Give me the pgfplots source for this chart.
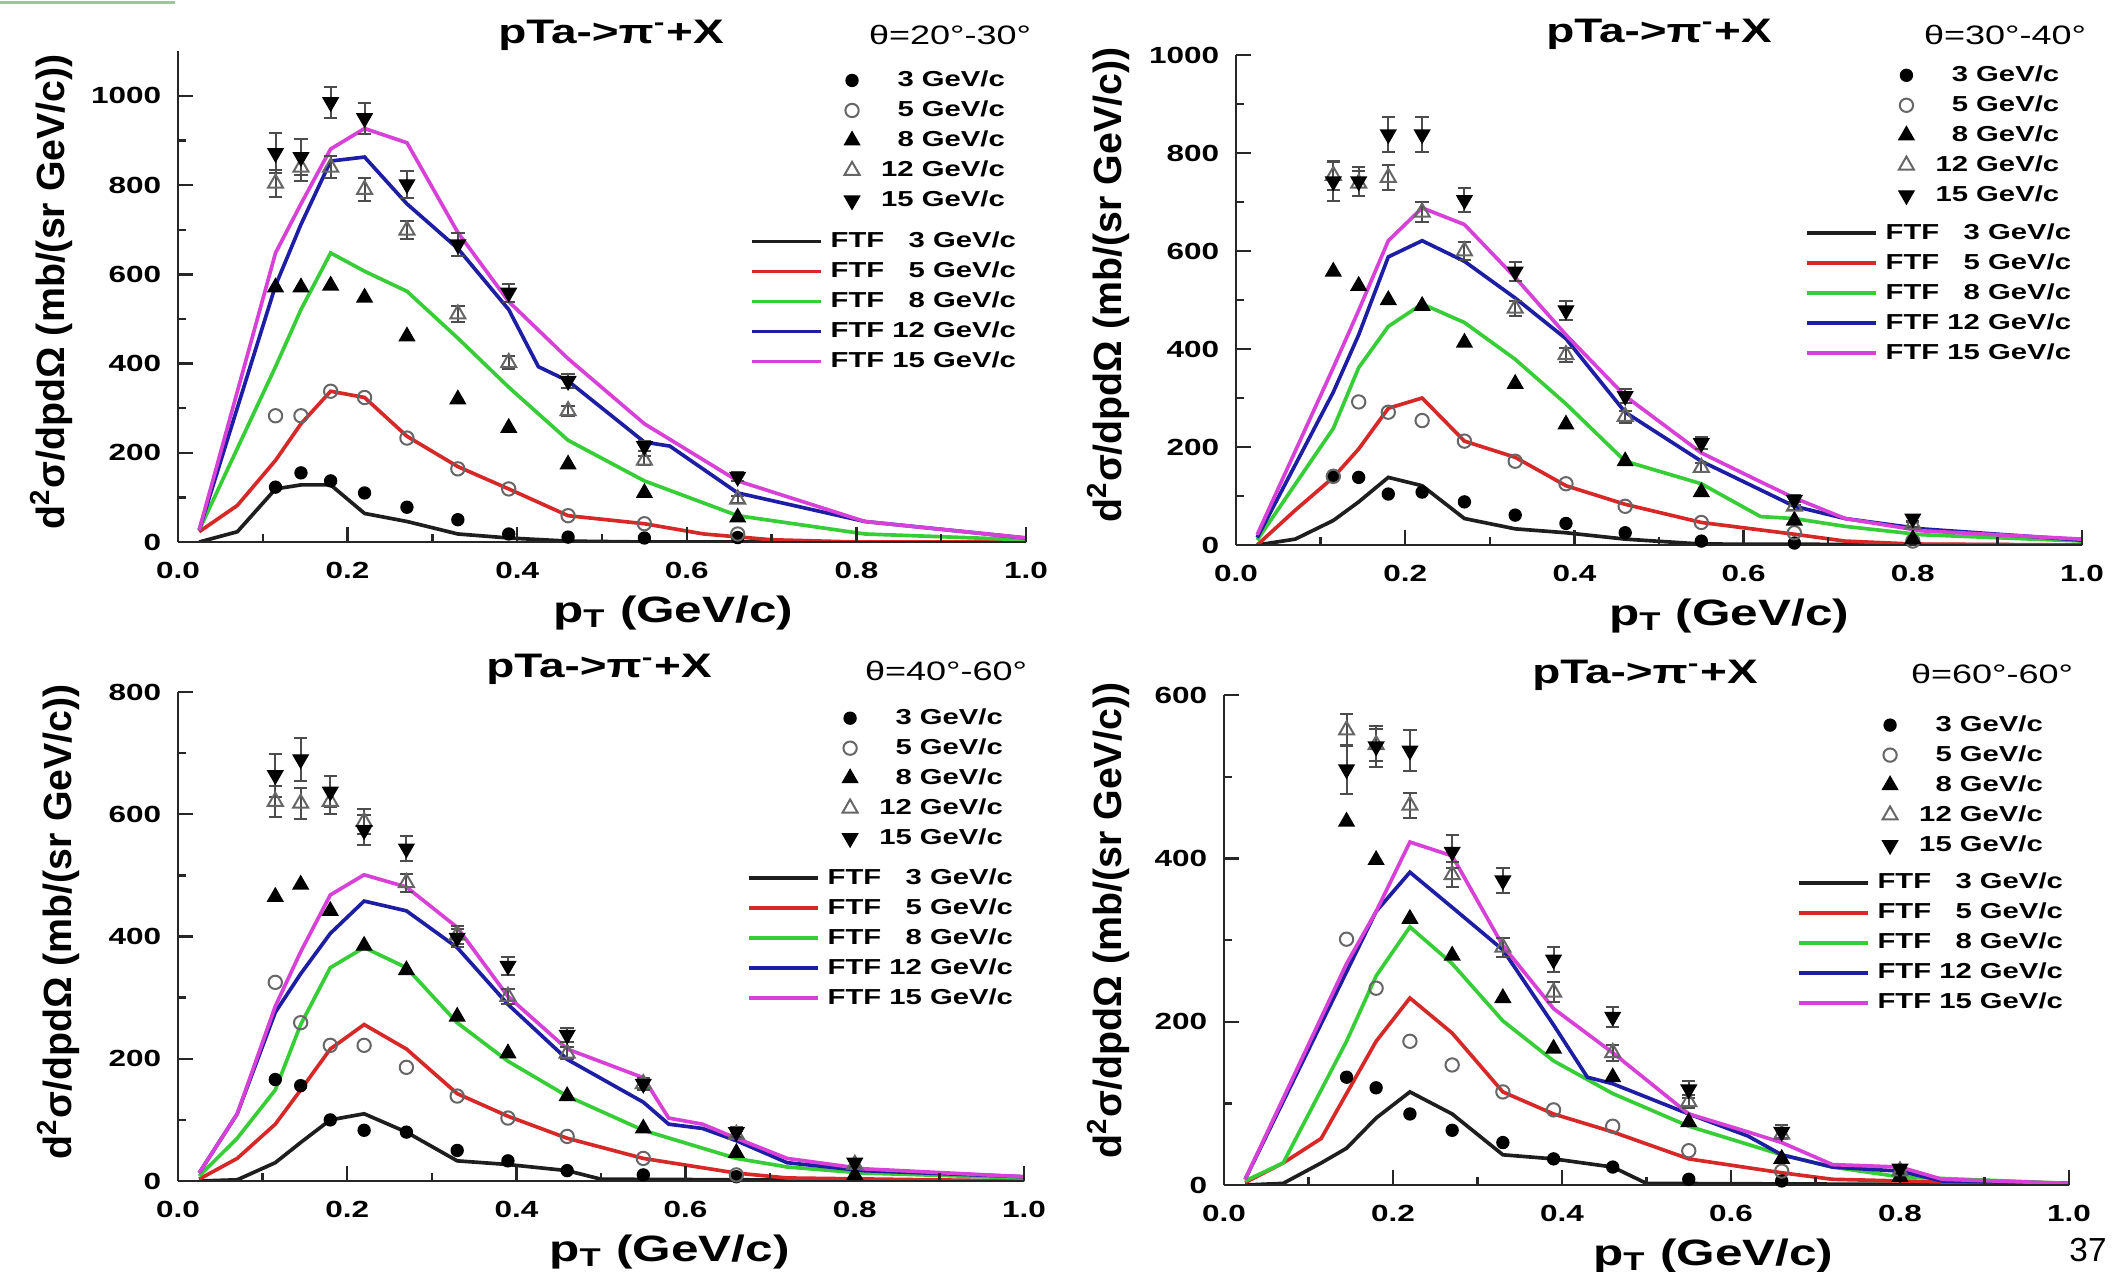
\documentclass[border=0pt]{standalone}
\usepackage{fontspec}
\setmainfont{Liberation Sans}[FakeStretch=1.35]
\newfontfamily\ylabfont{Liberation Sans}
\usepackage{pgfplots}
\usepackage{pgfplotstable}
\pgfplotsset{compat=1.18}
\definecolor{cblk}{RGB}{30,30,30}
\definecolor{cred}{RGB}{215,40,40}
\definecolor{cgrn}{RGB}{55,205,55}
\definecolor{cblu}{RGB}{30,30,165}
\definecolor{cmag}{RGB}{215,65,215}
\definecolor{topgreen}{RGB}{157,197,157}

% x  y3 y5 y8 y12 e12 y15 e15
\pgfplotstableread{
x y3 y5 y8 y12 e12 y15 e15
0.115 123 283 571 804 30 872 45
0.145 155 283 571 840 30 863 40
0.18 137 338 575 840 25 986 35
0.22 110 324 548 790 25 950 35
0.27 78 233 461 699 20 802 30
0.33 50 164 320 511 18 667 25
0.39 18 119 256 402 15 559 20
0.46 11 59 174 294 12 361 15
0.55 9 41 110 183 10 215 12
0.66 10 18 55 96 8 146 10
}\dataA
\pgfplotstableread{
x y3 y5 y8 y12 e12 y15 e15
0.115 142 140 558 754 30 742 40
0.145 138 292 529 738 25 742 30
0.18 104 271 500 750 25 838 35
0.22 108 254 488 679 20 838 35
0.27 88 212 413 600 18 704 25
0.33 61 171 329 483 15 558 20
0.39 44 125 246 388 15 479 20
0.46 25 79 171 262 12 304 15
0.55 8 46 108 158 10 208 12
0.66 4 25 50 79 8 92 10
0.80 nan 8 12 42 6 54 8
}\dataB
\pgfplotstableread{
x y3 y5 y8 y12 e12 y15 e15
0.115 166 325 465 621 25 664 35
0.145 156 259 485 618 25 690 35
0.18 100 222 442 621 20 637 25
0.22 83 222 385 588 20 574 25
0.27 80 186 345 488 15 544 20
0.33 50 139 269 402 15 398 15
0.39 33 103 209 302 12 352 15
0.46 17 73 139 209 10 239 12
0.55 10 37 86 159 8 159 10
0.66 7 10 46 76 6 80 8
0.80 nan nan 10 27 5 30 6
}\dataC
\pgfplotstableread{
x y3 y5 y8 y12 e12 y15 e15
0.145 132 301 445 557 20 509 30
0.18 119 241 398 539 20 537 25
0.22 87 176 326 465 15 532 25
0.27 67 147 281 380 15 408 20
0.33 52 114 229 291 12 373 15
0.39 32 92 167 236 12 276 15
0.46 22 72 132 162 10 206 12
0.55 7 42 77 102 8 117 10
0.66 5 17 32 62 6 65 8
0.80 nan nan 10 17 4 20 5
}\dataD

\pgfplotsset{
  base/.style={scale only axis, xmin=0, xmax=1, ymin=0},
  frame/.style={base,
    axis x line*=bottom, axis y line*=left,
    axis line style={black!85, line width=0.8pt},
    tick align=inside, major tick length=4.5pt, minor tick length=2.5pt,
    tick style={black!85, line width=0.7pt},
    xtick={0,0.2,0.4,0.6,0.8,1}, minor xtick={0.1,0.3,0.5,0.7,0.9},
    /pgf/number format/assume math mode=true,
    xticklabel style={/pgf/number format/fixed, /pgf/number format/fixed zerofill,
      /pgf/number format/precision=1, font=\bfseries\fontsize{7}{8}\selectfont, yshift=-2.5pt},
    yticklabel style={/pgf/number format/1000 sep={}, font=\bfseries\fontsize{7}{8}\selectfont, xshift=-1.5pt},
    xlabel={p\textsubscript{T} (GeV/c)},
    ylabel={d\textsuperscript{2}σ/dpdΩ (mb/(sr GeV/c))},
    xlabel style={font=\bfseries\fontsize{11}{13}\selectfont, anchor=base, yshift=-24pt},
    ylabel style={font=\ylabfont\bfseries\fontsize{11.8}{14}\selectfont, anchor=center},
    legend cell align=left,
    legend style={draw=none, fill=none, inner sep=0pt, outer sep=0pt,
      row sep=3pt, column sep=6.5pt,
      nodes={inner sep=0pt, text height=4.8pt, text depth=1.2pt, font=\bfseries\fontsize{6.5}{7}\selectfont}},
  },
  lines/.style={base, hide axis,
    legend cell align=left,
    legend style={draw=none, fill=none, inner sep=0pt, outer sep=0pt,
      row sep=3pt, column sep=2.4pt,
      nodes={inner sep=0pt, text height=4.8pt, text depth=1.2pt, font=\bfseries\fontsize{6.5}{7}\selectfont}},
  },
  mimg/.style={legend image code/.code={\draw[mark repeat=1,##1] plot coordinates {(0pt,0pt)};}},
  limg/.style={legend image code/.code={\draw[##1] (0pt,0pt) -- (20.7pt,0pt);}},
  ebar/.style={error bars/y dir=both, error bars/y explicit,
    error bars/error bar style={black!70, line width=0.6pt},
    error bars/error mark options={rotate=90, mark size=2pt, black!70, line width=0.6pt}},
  s3/.style={only marks, mark=*, mark size=1.8pt, mark options={fill=black, draw=black}, mimg},
  s5/.style={only marks, mark=o, mark size=2pt, mark options={draw=black!60, fill=white, line width=0.6pt}, mimg},
  s8/.style={only marks, mark=triangle*, mark size=2.6pt, mark options={fill=black, draw=black}, mimg},
  s12/.style={only marks, mark=triangle, mark size=2.6pt, mark options={draw=black!60, fill=white, line width=0.6pt}, mimg, ebar},
  s15/.style={only marks, mark=triangle*, mark size=2.6pt, mark options={fill=black, draw=black, rotate=180}, mimg, ebar},
  f3/.style={cblk, line width=1.1pt, limg},
  f5/.style={cred, line width=1.1pt, limg},
  f8/.style={cgrn, line width=1.1pt, limg},
  f12/.style={cblu, line width=1.1pt, limg},
  f15/.style={cmag, line width=1.1pt, limg},
}

\begin{document}
\begin{tikzpicture}
\useasboundingbox (0,0) rectangle (633.6pt,381.3pt);
\fill[topgreen] (0pt,380.1pt) rectangle (52.5pt,381.0pt);

% ---------------- Panel 1 ----------------
\begin{axis}[lines, at={(53.4pt,218.7pt)}, anchor=south west, width=254.4pt, height=147.2pt, ymax=1100,
  legend style={at={(0.6745,0.633)}, anchor=north west}]
\addplot[f3] coordinates {(0.025,0)(0.07,23)(0.115,119)(0.145,128)(0.18,128)(0.22,64)(0.27,46)(0.33,18)(0.39,9)(0.46,2)(0.55,0)(1.0,0)};
\addplot[f5] coordinates {(0.025,23)(0.07,82)(0.115,183)(0.145,265)(0.18,338)(0.22,324)(0.27,237)(0.33,169)(0.39,119)(0.46,59)(0.55,41)(0.62,18)(0.7,5)(0.8,0)(1.0,0)};
\addplot[f8] coordinates {(0.025,27)(0.115,393)(0.145,521)(0.18,648)(0.22,607)(0.27,562)(0.33,457)(0.39,347)(0.46,228)(0.55,137)(0.66,59)(0.81,18)(1.0,5)};
\addplot[f12] coordinates {(0.025,27)(0.115,575)(0.145,712)(0.18,854)(0.22,863)(0.27,758)(0.33,658)(0.39,521)(0.425,393)(0.46,361)(0.55,224)(0.58,215)(0.66,110)(0.81,46)(1.0,9)};
\addplot[f15] coordinates {(0.025,27)(0.115,648)(0.145,758)(0.18,881)(0.22,927)(0.27,895)(0.33,694)(0.39,539)(0.46,411)(0.55,265)(0.66,137)(0.81,46)(1.0,9)};
\legend{FTF \phantom{1}3 GeV/c, FTF \phantom{1}5 GeV/c, FTF \phantom{1}8 GeV/c, FTF 12 GeV/c, FTF 15 GeV/c}
\end{axis}
\begin{axis}[frame, at={(53.4pt,218.7pt)}, anchor=south west, width=254.4pt, height=147.2pt, ymax=1100,
  ytick={0,200,400,600,800,1000}, minor ytick={100,300,500,700,900},
  xlabel style={at={(axis description cs:0.584,0)}},
  ylabel style={at={(axis description cs:-0.149,0.51)}},
  legend style={at={(0.975,0.961)}, anchor=north east}]
\addplot[s3] table[x=x, y=y3] {\dataA};
\addplot[s5] table[x=x, y=y5] {\dataA};
\addplot[s8] table[x=x, y=y8] {\dataA};
\addplot[s12] table[x=x, y=y12, y error=e12] {\dataA};
\addplot[s15] table[x=x, y=y15, y error=e15] {\dataA};
\legend{\phantom{1}3 GeV/c, \phantom{1}5 GeV/c, \phantom{1}8 GeV/c, 12 GeV/c, 15 GeV/c}
\end{axis}

% ---------------- Panel 2 ----------------
\begin{axis}[lines, at={(370.8pt,217.8pt)}, anchor=south west, width=253.8pt, height=147pt, ymax=1000,
  legend style={at={(0.6726,0.657)}, anchor=north west}]
\addplot[f3] coordinates {(0.025,0)(0.07,12)(0.115,50)(0.145,88)(0.18,138)(0.22,121)(0.27,54)(0.33,33)(0.39,25)(0.46,12)(0.55,2)(1.0,0)};
\addplot[f5] coordinates {(0.025,0)(0.07,71)(0.115,138)(0.145,196)(0.18,279)(0.22,300)(0.27,212)(0.33,179)(0.39,121)(0.46,83)(0.55,46)(0.66,22)(0.72,8)(0.8,2)(1.0,0)};
\addplot[f8] coordinates {(0.025,10)(0.115,238)(0.145,362)(0.18,446)(0.22,492)(0.27,454)(0.33,379)(0.39,288)(0.46,171)(0.55,125)(0.62,58)(0.66,54)(0.72,38)(0.81,21)(1.0,8)};
\addplot[f12] coordinates {(0.025,15)(0.115,312)(0.145,429)(0.18,588)(0.22,621)(0.27,579)(0.33,504)(0.39,421)(0.46,271)(0.55,171)(0.66,79)(0.72,54)(0.81,33)(1.0,10)};
\addplot[f15] coordinates {(0.025,21)(0.115,362)(0.145,479)(0.18,621)(0.22,688)(0.27,654)(0.33,546)(0.39,429)(0.46,304)(0.55,188)(0.62,129)(0.66,96)(0.72,54)(0.81,29)(1.0,12)};
\legend{FTF \phantom{1}3 GeV/c, FTF \phantom{1}5 GeV/c, FTF \phantom{1}8 GeV/c, FTF 12 GeV/c, FTF 15 GeV/c}
\end{axis}
\begin{axis}[frame, at={(370.8pt,217.8pt)}, anchor=south west, width=253.8pt, height=147pt, ymax=1000,
  ytick={0,200,400,600,800,1000}, minor ytick={100,300,500,700,900},
  xlabel style={at={(axis description cs:0.583,0)}},
  ylabel style={at={(axis description cs:-0.151,0.53)}},
  legend style={at={(0.973,0.979)}, anchor=north east}]
\addplot[s3] table[x=x, y=y3] {\dataB};
\addplot[s5] table[x=x, y=y5] {\dataB};
\addplot[s8] table[x=x, y=y8] {\dataB};
\addplot[s12] table[x=x, y=y12, y error=e12] {\dataB};
\addplot[s15] table[x=x, y=y15, y error=e15] {\dataB};
\legend{\phantom{1}3 GeV/c, \phantom{1}5 GeV/c, \phantom{1}8 GeV/c, 12 GeV/c, 15 GeV/c}
\end{axis}

% ---------------- Panel 3 ----------------
\begin{axis}[lines, at={(53.4pt,27pt)}, anchor=south west, width=253.8pt, height=146.7pt, ymax=800,
  legend style={at={(0.6726,0.640)}, anchor=north west}]
\addplot[f3] coordinates {(0.025,0)(0.07,2)(0.115,30)(0.145,63)(0.18,100)(0.22,110)(0.27,80)(0.33,33)(0.39,27)(0.46,17)(0.5,3)(1.0,0)};
\addplot[f5] coordinates {(0.025,3)(0.07,37)(0.115,93)(0.145,149)(0.18,216)(0.22,256)(0.27,216)(0.33,143)(0.39,106)(0.46,70)(0.55,37)(0.66,13)(0.72,5)(1.0,0)};
\addplot[f8] coordinates {(0.025,8)(0.07,70)(0.115,149)(0.145,256)(0.18,349)(0.22,382)(0.27,349)(0.33,259)(0.39,196)(0.46,139)(0.55,83)(0.66,37)(0.72,23)(0.81,13)(1.0,5)};
\addplot[f12] coordinates {(0.025,13)(0.07,110)(0.115,276)(0.145,339)(0.18,405)(0.22,458)(0.27,442)(0.33,382)(0.39,289)(0.46,199)(0.55,129)(0.58,93)(0.62,86)(0.66,66)(0.72,30)(0.81,17)(1.0,7)};
\addplot[f15] coordinates {(0.025,13)(0.07,110)(0.115,286)(0.145,375)(0.18,468)(0.22,501)(0.27,481)(0.33,415)(0.39,302)(0.46,216)(0.55,169)(0.58,103)(0.62,93)(0.66,70)(0.72,37)(0.81,20)(1.0,7)};
\legend{FTF \phantom{1}3 GeV/c, FTF \phantom{1}5 GeV/c, FTF \phantom{1}8 GeV/c, FTF 12 GeV/c, FTF 15 GeV/c}
\end{axis}
\begin{axis}[frame, at={(53.4pt,27pt)}, anchor=south west, width=253.8pt, height=146.7pt, ymax=800,
  ytick={0,200,400,600,800}, minor ytick={100,300,500,700},
  xlabel style={at={(axis description cs:0.581,0)}},
  ylabel style={at={(axis description cs:-0.141,0.53)}},
  legend style={at={(0.975,0.967)}, anchor=north east}]
\addplot[s3] table[x=x, y=y3] {\dataC};
\addplot[s5] table[x=x, y=y5] {\dataC};
\addplot[s8] table[x=x, y=y8] {\dataC};
\addplot[s12] table[x=x, y=y12, y error=e12] {\dataC};
\addplot[s15] table[x=x, y=y15, y error=e15] {\dataC};
\legend{\phantom{1}3 GeV/c, \phantom{1}5 GeV/c, \phantom{1}8 GeV/c, 12 GeV/c, 15 GeV/c}
\end{axis}

% ---------------- Panel 4 ----------------
\begin{axis}[lines, at={(367.2pt,25.8pt)}, anchor=south west, width=253.5pt, height=147pt, ymax=600,
  legend style={at={(0.678,0.637)}, anchor=north west}]
\addplot[f3] coordinates {(0.025,0)(0.07,2)(0.115,27)(0.145,45)(0.18,82)(0.22,114)(0.27,87)(0.33,37)(0.39,32)(0.46,22)(0.5,2)(1.0,0)};
\addplot[f5] coordinates {(0.025,3)(0.07,27)(0.115,57)(0.145,112)(0.18,176)(0.22,229)(0.27,186)(0.33,114)(0.39,87)(0.46,65)(0.55,32)(0.66,15)(0.72,7)(1.0,0)};
\addplot[f8] coordinates {(0.025,5)(0.07,27)(0.145,176)(0.18,256)(0.22,316)(0.27,271)(0.33,201)(0.39,152)(0.46,112)(0.55,72)(0.66,37)(0.72,22)(0.8,10)(1.0,2)};
\addplot[f12] coordinates {(0.025,7)(0.145,261)(0.18,335)(0.22,383)(0.27,340)(0.33,288)(0.39,196)(0.43,132)(0.46,124)(0.55,87)(0.62,60)(0.66,37)(0.72,22)(0.8,17)(0.85,5)(1.0,2)};
\addplot[f15] coordinates {(0.025,7)(0.145,271)(0.18,335)(0.22,420)(0.27,403)(0.33,293)(0.39,216)(0.46,162)(0.55,87)(0.62,65)(0.66,52)(0.72,25)(0.8,22)(0.85,7)(1.0,2)};
\legend{FTF \phantom{1}3 GeV/c, FTF \phantom{1}5 GeV/c, FTF \phantom{1}8 GeV/c, FTF 12 GeV/c, FTF 15 GeV/c}
\end{axis}
\begin{axis}[frame, at={(367.2pt,25.8pt)}, anchor=south west, width=253.5pt, height=147pt, ymax=600,
  ytick={0,200,400,600}, minor ytick={100,300,500},
  xlabel style={at={(axis description cs:0.579,0)}},
  ylabel style={at={(axis description cs:-0.137,0.54)}},
  legend style={at={(0.969,0.959)}, anchor=north east}]
\addplot[s3] table[x=x, y=y3] {\dataD};
\addplot[s5] table[x=x, y=y5] {\dataD};
\addplot[s8] table[x=x, y=y8] {\dataD};
\addplot[s12] table[x=x, y=y12, y error=e12] {\dataD};
\addplot[s15] table[x=x, y=y15, y error=e15] {\dataD};
\legend{\phantom{1}3 GeV/c, \phantom{1}5 GeV/c, \phantom{1}8 GeV/c, 12 GeV/c, 15 GeV/c}
\end{axis}

% titles
\begin{scope}[every node/.style={inner sep=0pt}]
\node[anchor=base, font=\bfseries\fontsize{10.2}{12}\selectfont] at (183.3pt,368.4pt) {pTa->π\textsuperscript{-}+X};
\node[anchor=base, font=\fontsize{8}{10}\selectfont] at (285pt,367.8pt) {θ=20°-30°};
\node[anchor=base, font=\bfseries\fontsize{10.2}{12}\selectfont] at (497.7pt,368.7pt) {pTa->π\textsuperscript{-}+X};
\node[anchor=base, font=\fontsize{8}{10}\selectfont] at (601.5pt,367.8pt) {θ=30°-40°};
\node[anchor=base, font=\bfseries\fontsize{10.2}{12}\selectfont] at (179.7pt,178pt) {pTa->π\textsuperscript{-}+X};
\node[anchor=base, font=\fontsize{8}{10}\selectfont] at (283.8pt,177.2pt) {θ=40°-60°};
\node[anchor=base, font=\bfseries\fontsize{10.2}{12}\selectfont] at (493.5pt,176.2pt) {pTa->π\textsuperscript{-}+X};
\node[anchor=base, font=\fontsize{8}{10}\selectfont] at (597.6pt,176.4pt) {θ=60°-60°};
\node[anchor=center, font=\ylabfont\fontsize{10}{12}\selectfont] at (626.4pt,6.3pt) {37};
\end{scope}
\end{tikzpicture}
\end{document}
